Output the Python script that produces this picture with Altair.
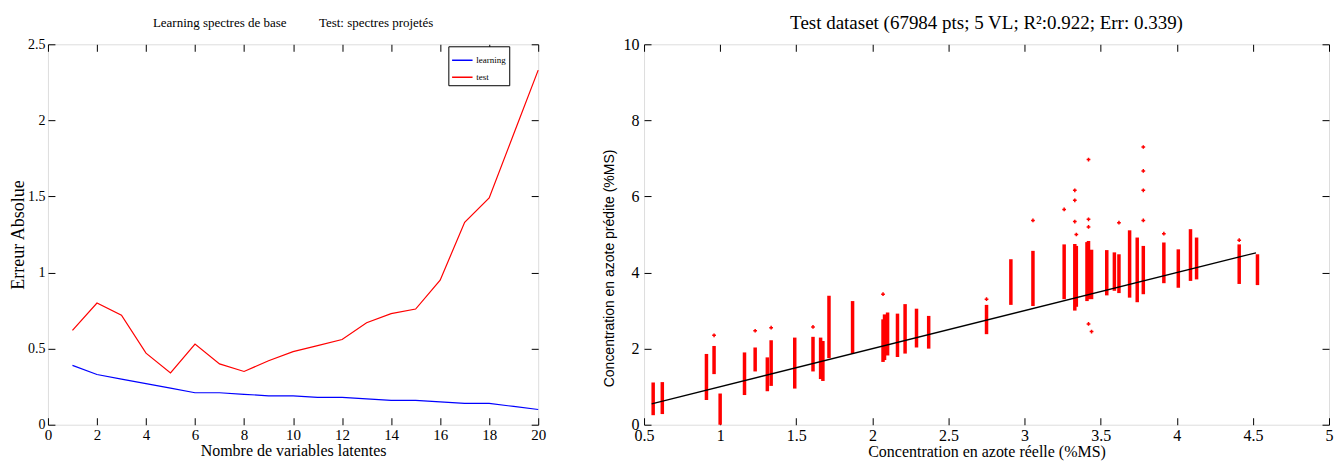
import altair as alt
import pandas as pd

SERIF = "Liberation Serif"
SANS = "Liberation Sans"

# ---------------- left panel data ----------------
n_vl = list(range(1, 21))
err_learning = [0.39, 0.33, 0.30, 0.27, 0.24, 0.21, 0.21, 0.20, 0.19, 0.19,
                0.18, 0.18, 0.17, 0.16, 0.16, 0.15, 0.14, 0.14, 0.12, 0.10]
err_test = [0.62, 0.80, 0.72, 0.47, 0.34, 0.53, 0.40, 0.35, 0.42, 0.48,
            0.52, 0.56, 0.67, 0.73, 0.76, 0.95, 1.33, 1.49, 1.91, 2.33]
series_names = ["learning", "test"]
series_colors = ["#0000ff", "#ff0000"]
left_x_ticks = [0, 2, 4, 6, 8, 10, 12, 14, 16, 18, 20]
left_y_ticks = [0, 0.5, 1, 1.5, 2, 2.5]

# ---------------- right panel data ----------------
# vertical clusters of predicted values (x = true value, lo/hi = predicted range)
cluster_x = [0.56, 0.62, 0.91, 0.96, 1.00, 1.16, 1.23, 1.31, 1.335, 1.49,
             1.61, 1.66, 1.675, 1.715, 1.87, 2.07, 2.08, 2.10, 2.165, 2.215,
             2.29, 2.37, 2.75, 2.91, 3.055, 3.26, 3.33, 3.34, 3.41, 3.42,
             3.44, 3.54, 3.59, 3.62, 3.69, 3.74, 3.78, 3.915, 4.01, 4.09,
             4.13, 4.41, 4.53]
cluster_lo = [0.25, 0.28, 0.65, 1.33, 0.00, 0.78, 1.40, 0.88, 1.02, 0.95,
              1.40, 1.20, 1.15, 1.75, 1.87, 1.65, 1.70, 1.82, 1.78, 1.87,
              2.03, 2.00, 2.38, 3.15, 3.12, 3.30, 3.00, 3.10, 3.25, 3.30,
              3.30, 3.40, 3.52, 3.46, 3.34, 3.22, 3.43, 3.72, 3.60, 3.78,
              3.82, 3.70, 3.67]
cluster_hi = [1.11, 1.12, 1.86, 2.07, 0.82, 1.90, 2.03, 1.77, 2.22, 2.29,
              2.31, 2.29, 2.20, 3.39, 3.25, 2.77, 2.90, 2.95, 2.92, 3.17,
              3.05, 2.86, 3.15, 4.35, 4.57, 4.74, 4.75, 4.70, 4.80, 4.83,
              4.60, 4.59, 4.53, 4.48, 5.11, 4.92, 4.70, 4.79, 4.61, 5.14,
              4.92, 4.74, 4.48]
outlier_x = [0.96, 1.23, 1.335, 1.61, 2.07, 2.75, 3.055, 3.26, 3.33, 3.33,
             3.33, 3.34, 3.42, 3.42, 3.42, 3.42, 3.44, 3.62, 3.78, 3.78,
             3.78, 3.78, 3.915, 4.41]
outlier_y = [2.35, 2.47, 2.55, 2.57, 3.43, 3.30, 5.37, 5.66, 6.16, 5.90,
             5.34, 5.00, 6.97, 5.40, 5.20, 2.65, 2.45, 5.31, 7.30, 6.67,
             6.16, 5.37, 5.02, 4.85]
fit_x = [0.55, 4.52]
fit_y = [0.55, 4.52]
right_x_ticks = [0.5, 1, 1.5, 2, 2.5, 3, 3.5, 4, 4.5, 5]
right_y_ticks = [0, 2, 4, 6, 8, 10]

TICK = 7


def axis(orient, values, show, title=None, label_font=SERIF, label_size=15,
         title_font=SERIF, title_size=16, label_pad=4, title_pad=2, title_y=None):
    # inward ticks: grid lines dashed so that only the first TICK px
    # (starting at the axis edge) are drawn
    kw = dict(orient=orient, values=values, ticks=False, tickSize=0,
              domain=False, grid=True, gridColor="black", gridOpacity=1,
              gridWidth=1, gridDash=[TICK, 3000],
              labelFlush=False, labelOverlap=False)
    if show:
        kw.update(labels=True, labelFont=label_font, labelFontSize=label_size,
                  labelColor="black", labelPadding=label_pad, format="~r",
                  title=title, titleFont=title_font, titleFontSize=title_size,
                  titleFontWeight="normal", titleColor="black",
                  titlePadding=title_pad)
        if title_y is not None:
            kw["titleY"] = title_y
    else:
        kw.update(labels=False, title=None, minExtent=0, maxExtent=0)
    return alt.Axis(**kw)


# ---------------- left panel ----------------
left_df = pd.DataFrame({
    "vl": n_vl + n_vl,
    "err": err_learning + err_test,
    "serie": ["learning"] * len(n_vl) + ["test"] * len(n_vl),
})
xs_l = alt.Scale(domain=[0, 20], nice=False, zero=False)
ys_l = alt.Scale(domain=[0, 2.5], nice=False)

lines = alt.Chart(left_df).mark_line(strokeWidth=1.2).encode(
    x=alt.X("vl:Q", scale=xs_l,
            axis=axis("bottom", left_x_ticks, True, "Nombre de variables latentes",
                      label_size=15, title_size=16, label_pad=3, title_pad=0)),
    y=alt.Y("err:Q", scale=ys_l,
            axis=axis("left", left_y_ticks, True, "Erreur Absolue",
                      label_size=14, title_size=18, label_pad=3, title_pad=0)),
    color=alt.Color("serie:N",
                    scale=alt.Scale(domain=series_names, range=series_colors),
                    legend=alt.Legend(title=None, orient="none", legendX=401, legendY=2,
                                      symbolType="stroke", symbolSize=420,
                                      symbolStrokeWidth=1.5, labelFont=SERIF,
                                      labelFontSize=9, labelColor="black",
                                      strokeColor="black", fillColor="white",
                                      padding=3, rowPadding=1, labelOffset=3,
                                      labelLimit=60, cornerRadius=0)),
)
ghost_l = alt.Chart(left_df).mark_point(opacity=0).encode(
    x=alt.X("vl:Q", scale=xs_l, axis=axis("top", left_x_ticks, False)),
    y=alt.Y("err:Q", scale=ys_l, axis=axis("right", left_y_ticks, False)),
)
left = alt.layer(lines, ghost_l).resolve_axis(x="independent", y="independent").properties(
    width=491, height=381,
    title=alt.TitleParams("Learning spectres de base" + "\u00a0" * 10 + "Test: spectres projetés",
                          font=SERIF, fontSize=13, fontWeight="normal", color="black",
                          offset=7),
)

# ---------------- right panel ----------------
cl_df = pd.DataFrame({"x": cluster_x, "lo": cluster_lo, "hi": cluster_hi})
out_df = pd.DataFrame({"x": outlier_x, "y": outlier_y})
fit_df = pd.DataFrame({"x": fit_x, "y": fit_y})
xs_r = alt.Scale(domain=[0.5, 5], nice=False, zero=False)
ys_r = alt.Scale(domain=[0, 10], nice=False)

rules = alt.Chart(cl_df).mark_rule(color="#ff0000", strokeWidth=3.5).encode(
    x=alt.X("x:Q", scale=xs_r,
            axis=axis("bottom", right_x_ticks, True, "Concentration en azote réelle (%MS)",
                      label_size=16, title_size=16, label_pad=3, title_pad=0)),
    y=alt.Y("lo:Q", scale=ys_r,
            axis=axis("left", right_y_ticks, True, "Concentration en azote prédite (%MS)",
                      label_font=SERIF, label_size=16, title_font=SANS, title_size=14,
                      label_pad=5, title_pad=7, title_y=224)),
    y2="hi:Q",
)
pts = alt.Chart(out_df).mark_point(shape="cross", color="#ff0000", filled=True,
                                   size=14, opacity=1).encode(
    x=alt.X("x:Q", scale=xs_r, axis=None),
    y=alt.Y("y:Q", scale=ys_r, axis=None),
)
fit = alt.Chart(fit_df).mark_line(color="black", strokeWidth=1.3).encode(
    x=alt.X("x:Q", scale=xs_r, axis=None),
    y=alt.Y("y:Q", scale=ys_r, axis=None),
)
ghost_r = alt.Chart(fit_df).mark_point(opacity=0).encode(
    x=alt.X("x:Q", scale=xs_r, axis=axis("top", right_x_ticks, False)),
    y=alt.Y("y:Q", scale=ys_r, axis=axis("right", right_y_ticks, False)),
)
right = alt.layer(rules, pts, fit, ghost_r).resolve_axis(x="independent", y="independent").properties(
    width=686, height=381,
    title=alt.TitleParams("Test dataset (67984 pts; 5 VL; R²:0.922; Err: 0.339)",
                          font=SERIF, fontSize=19, fontWeight="normal", color="black",
                          offset=3),
)

chart = alt.hconcat(left, right, spacing=106, bounds="flush").properties(
    padding={"left": 1, "top": 5, "right": 0, "bottom": 0}
).configure_view(stroke="black", strokeWidth=1.2).configure(background="white")

chart.save("out.html", embed_options={"renderer": "svg", "actions": False})
